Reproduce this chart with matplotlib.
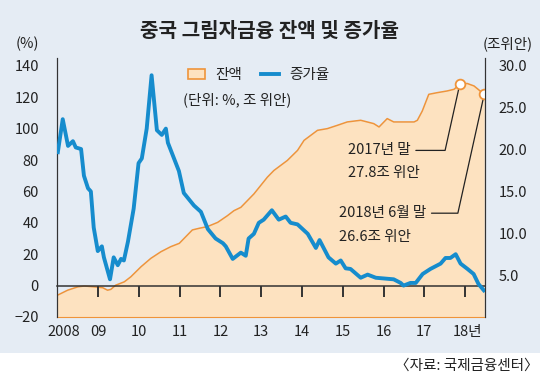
import matplotlib.pyplot as plt
from matplotlib.patches import Patch, Rectangle
from matplotlib.lines import Line2D

plt.rcParams['font.family'] = ['Noto Sans CJK KR', 'DejaVu Sans']

# 증가율 (%), 왼쪽 축
rate_year = [2008.01, 2008.13, 2008.26, 2008.38, 2008.45, 2008.58, 2008.65, 2008.75, 2008.82, 2008.89, 2008.99,
             2009.09, 2009.14, 2009.29, 2009.38, 2009.48, 2009.56, 2009.63, 2009.73, 2009.87, 2009.99,
             2010.07, 2010.19, 2010.31, 2010.44, 2010.56, 2010.66, 2010.71, 2010.86, 2010.98,
             2011.10, 2011.35, 2011.52, 2011.69, 2011.88,
             2012.06, 2012.13, 2012.30, 2012.50, 2012.62, 2012.69, 2012.82, 2012.94,
             2013.06, 2013.26, 2013.43, 2013.60, 2013.72, 2013.89,
             2014.14, 2014.34, 2014.43, 2014.65, 2014.83, 2014.95,
             2015.07, 2015.19, 2015.44, 2015.61, 2015.81,
             2016.25, 2016.42, 2016.49, 2016.66, 2016.79, 2016.96,
             2017.15, 2017.40, 2017.52, 2017.64, 2017.77, 2017.89,
             2018.06, 2018.21, 2018.33, 2018.46]
rate = [85, 106, 89, 92, 88, 87, 70, 62, 60, 37, 22,
        25, 18, 4, 18, 13, 17, 16, 28, 49, 78,
        81, 100, 134, 99, 96, 100, 91, 81, 73,
        59, 51, 47, 36, 30,
        27, 25, 17, 21, 19, 30, 33, 40,
        42, 48, 42, 44, 40, 39,
        33, 24, 29, 18, 14, 16,
        11, 10.6, 5, 7, 5,
        4, 1.7, 0, 1.7, 1.7, 7.4,
        10.6, 14, 17.6, 17.6, 20, 14,
        10.6, 7.4, 1, -3]

# 잔액 (조 위안), 오른쪽 축
bal_year = [2008.0, 2008.25, 2008.50, 2008.66, 2008.90,
            2009.11, 2009.23, 2009.31, 2009.43, 2009.64, 2009.80,
            2010.05, 2010.29, 2010.54, 2010.78, 2010.99,
            2011.15, 2011.31, 2011.48, 2011.68, 2011.93,
            2012.17, 2012.33, 2012.50, 2012.82,
            2013.15, 2013.31, 2013.64, 2013.89,
            2014.05, 2014.38, 2014.62, 2014.87,
            2015.11, 2015.44, 2015.60, 2015.76, 2015.89,
            2016.09, 2016.25, 2016.50, 2016.75, 2016.83, 2016.95,
            2017.11, 2017.32, 2017.56, 2017.73, 2017.87,
            2018.05, 2018.22, 2018.47]
balance = [2.6, 3.2, 3.6, 3.7, 3.6,
           3.5, 3.2, 3.3, 3.8, 4.2, 4.8,
           6.0, 7.0, 7.8, 8.4, 8.8,
           9.6, 10.4, 10.6, 10.8, 11.3,
           12.1, 12.7, 13.1, 14.7,
           16.7, 17.5, 18.7, 19.9,
           21.1, 22.3, 22.5, 22.9,
           23.3, 23.5, 23.3, 23.1, 22.7,
           23.7, 23.3, 23.3, 23.3, 23.5, 24.6,
           26.6, 26.8, 27.0, 27.2, 27.8,
           27.9, 27.6, 26.6]

year_marks = [2009, 2010, 2011, 2012, 2013, 2014, 2015, 2016, 2017, 2018]
year_ticks = [2008.15, 2009, 2010, 2011, 2012, 2013, 2014, 2015, 2016, 2017, 2018.05]
year_labels = ['2008', '09', '10', '11', '12', '13', '14', '15', '16', '17', '18년']
left_ticks = [-20, 0, 20, 40, 60, 80, 100, 120, 140]
left_labels = ['−20', '0', '20', '40', '60', '80', '100', '120', '140']
right_ticks = [5, 10, 15, 20, 25, 30]
right_labels = ['5.0', '10.0', '15.0', '20.0', '25.0', '30.0']

BG = '#e5ecf4'
FILL = '#fde2c0'
ORANGE = '#ef943a'
BLUE = '#168ccd'
DARK = '#333333'
TXT = '#222222'

fig = plt.figure(figsize=(5.4, 3.79), dpi=100)
fig.patch.set_facecolor('white')
fig.patches.append(Rectangle((0, 0.069), 1, 0.931, transform=fig.transFigure,
                             facecolor=BG, edgecolor='none', zorder=-10))

ax = fig.add_axes([0.1056, 0.1636, 0.7926, 0.6834])
ax2 = ax.twinx()
ax.set_zorder(ax2.get_zorder() + 1)
ax.patch.set_visible(False)
ax2.patch.set_visible(False)

# 잔액 (면적)
ax2.fill_between(bal_year, 0, balance, color=FILL, lw=0)
ax2.plot(bal_year, balance, color=ORANGE, lw=1.1)
ax2.set_ylim(0, 30.94)
ax2.set_yticks(right_ticks)
ax2.set_yticklabels(right_labels)
ax2.tick_params(axis='y', length=0, pad=10, labelsize=10.5, colors=TXT)

# 증가율 (선)
ax.plot(rate_year, rate, color=BLUE, lw=2.8, solid_joinstyle='round', zorder=3)
ax.set_ylim(-20, 145)
ax.set_xlim(2007.99, 2018.49)
ax.set_yticks(left_ticks)
ax.set_yticklabels(left_labels)
ax.set_xticks(year_ticks)
ax.set_xticklabels(year_labels)
ax.tick_params(axis='y', length=0, pad=13, labelsize=10.5, colors=TXT)
ax.tick_params(axis='x', length=0, pad=6, labelsize=10.5, colors=TXT)

# 0% 기준선과 연도 눈금
ylo, yhi = ax.get_ylim()
zero_ax = ax.secondary_xaxis((0 - ylo) / (yhi - ylo))
zero_ax.set_xticks(year_marks)
zero_ax.set_xticklabels([])
zero_ax.tick_params(axis='x', direction='out', length=8, width=1.4, color=DARK)
zero_ax.spines['bottom'].set_color(DARK)
zero_ax.spines['bottom'].set_linewidth(1.1)

for a in (ax, ax2):
    a.spines['top'].set_visible(False)
    a.spines['bottom'].set_visible(False)
    a.spines['left'].set_color(DARK)
    a.spines['right'].set_color(DARK)
ax2.spines['bottom'].set_visible(True)
ax2.spines['bottom'].set_color(ORANGE)
ax2.spines['bottom'].set_linewidth(0.8)

# 주석
for i, head, tail, pos in [(48, '2017년 말', '27.8조 위안', (2015.12, 19.9, 17.2)),
                           (51, '2018년 6월 말', '26.6조 위안', (2014.90, 12.4, 9.55))]:
    ax2.annotate(head, xy=(bal_year[i], balance[i]), xytext=(pos[0], pos[1]),
                 ha='left', va='center', fontsize=10.5, color=TXT,
                 arrowprops=dict(arrowstyle='-', color=TXT, lw=0.9, shrinkA=2, shrinkB=0,
                                 connectionstyle='angle,angleA=0,angleB=77.5,rad=0'))
    ax2.text(pos[0], pos[2], tail, ha='left', va='center', fontsize=10.5, color=TXT)
    ax2.plot(bal_year[i], balance[i], 'o', ms=7, mfc='white', mec=ORANGE, mew=1.3, zorder=5)

# 범례
handles = [Patch(facecolor=FILL, edgecolor=ORANGE, lw=1.2),
           Line2D([0], [0], color=BLUE, lw=2.8)]
fig.legend(handles, ['잔액', '증가율'], loc='center left', bbox_to_anchor=(0.348, 0.802),
           ncol=2, frameon=False, fontsize=10.5, handlelength=1.2, handletextpad=0.7,
           columnspacing=1.3, borderpad=0, borderaxespad=0, labelcolor=TXT)
fig.text(0.339, 0.736, '(단위: %, 조 위안)', ha='left', va='center', fontsize=10.5, color=TXT)

fig.text(0.5, 0.92, '중국 그림자금융 잔액 및 증가율', ha='center', va='center',
         fontsize=14.5, fontweight='bold', color=TXT)
fig.text(27 / 540, 0.884, '(%)', ha='center', va='center', fontsize=10.5, color=TXT)
fig.text(508 / 540, 0.884, '(조위안)', ha='center', va='center', fontsize=10.5, color=TXT)
fig.text(0.997, 0.034, '〈자료: 국제금융센터〉', ha='right', va='center', fontsize=10.5, color=TXT)

fig.savefig('out.png', dpi=100, facecolor=fig.get_facecolor())
